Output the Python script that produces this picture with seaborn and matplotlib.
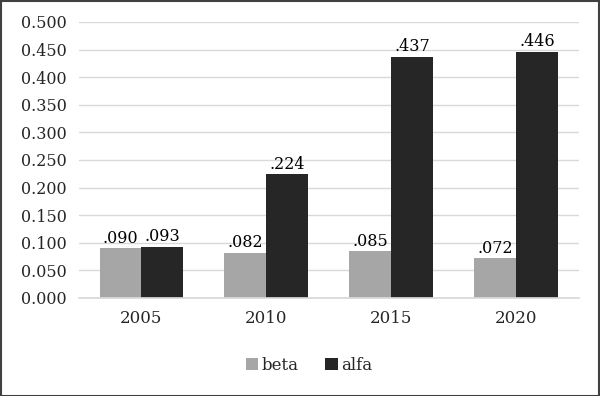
import matplotlib
matplotlib.use("Agg")
import matplotlib.pyplot as plt
import seaborn as sns
import pandas as pd
from matplotlib.patches import Rectangle

years = ["2005", "2010", "2015", "2020"]
beta = [0.090, 0.082, 0.085, 0.072]
alfa = [0.093, 0.224, 0.437, 0.446]
series = ["beta", "alfa"]
colors = ["#a6a6a6", "#262626"]

df = pd.DataFrame({
    "year": years * 2,
    "value": beta + alfa,
    "series": ["beta"] * len(years) + ["alfa"] * len(years),
})

sns.set_theme(style="white")
plt.rcParams["font.family"] = ["DejaVu Serif"]

fig = plt.figure(figsize=(6, 3.96), dpi=100)
ax = fig.add_axes([0.1317, 0.2475, 0.833, 0.697])
sns.barplot(data=df, x="year", y="value", hue="series", hue_order=series,
            palette=colors, width=0.672, gap=0, ax=ax, errorbar=None,
            saturation=1, linewidth=0)

for cont in ax.containers:
    ax.bar_label(cont, labels=[f"{b.get_height():.3f}"[1:] for b in cont],
                 fontsize=11.5, color="#000000", padding=1)

ax.set_ylim(0, 0.5)
ax.set_yticks([i * 0.05 for i in range(11)])
ax.set_yticklabels([f"{i*0.05:.3f}" for i in range(11)], fontsize=11.5)
ax.tick_params(axis="x", labelsize=12, pad=9, length=0)
ax.tick_params(axis="y", length=0, pad=9)
ax.yaxis.grid(True, color="#d9d9d9", linewidth=1)
ax.set_axisbelow(True)
for s in ["top", "right", "left"]:
    ax.spines[s].set_visible(False)
ax.spines["bottom"].set_color("#d9d9d9")
ax.set_xlabel("")
ax.set_ylabel("")

ax.legend(loc="center", bbox_to_anchor=(0.46, -0.245), ncol=2, frameon=False,
          fontsize=12, handlelength=0.75, handleheight=0.75, handletextpad=0.2,
          columnspacing=1.6)

fig.patches.append(Rectangle((0.001, 0.001), 0.997, 0.997, transform=fig.transFigure,
                             fill=False, edgecolor="#404040", linewidth=1.5))
fig.savefig("out.png", dpi=100, facecolor="white")
